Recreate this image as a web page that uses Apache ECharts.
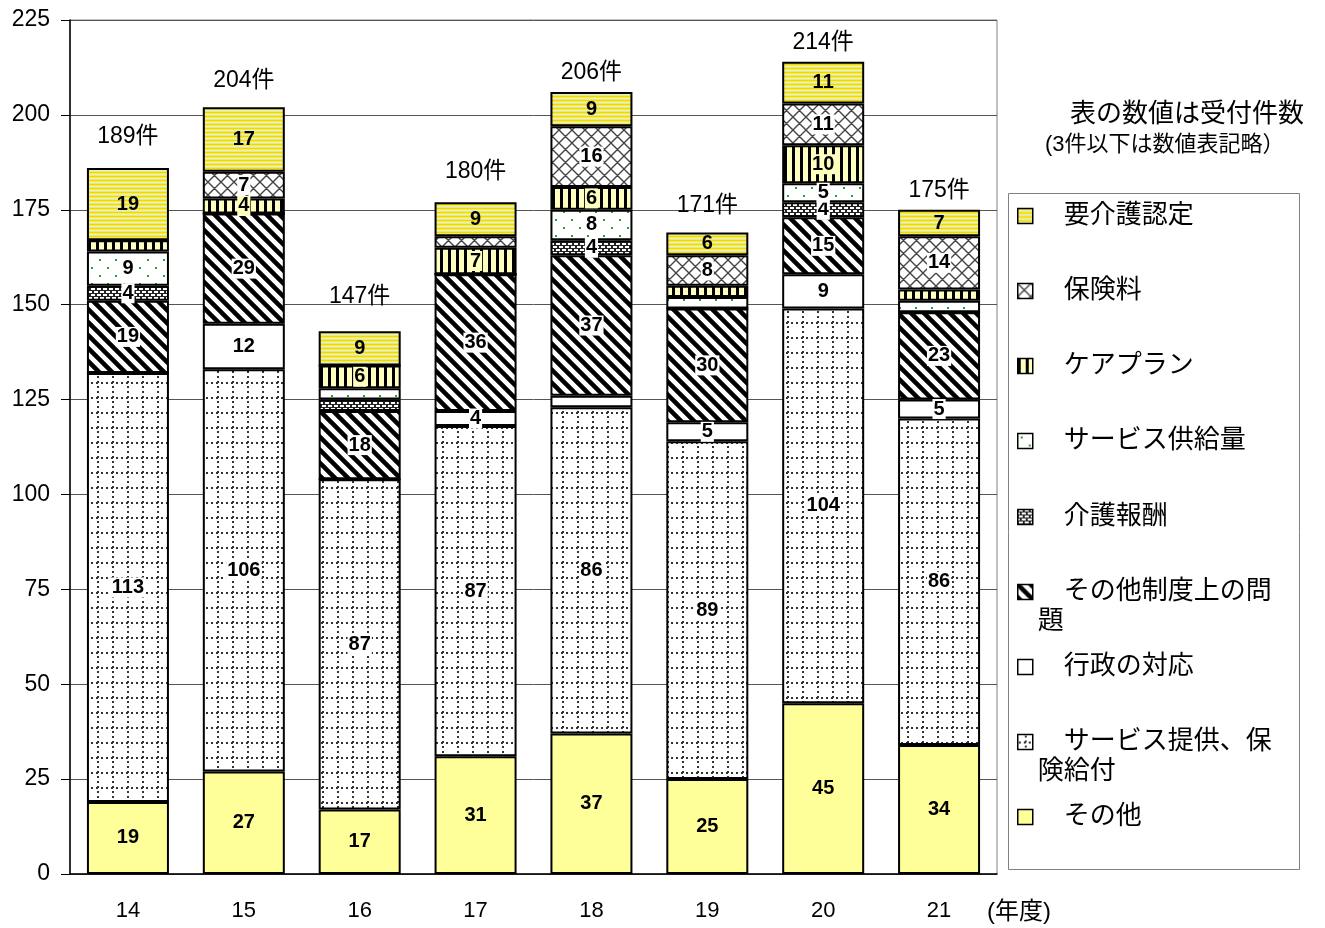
<!DOCTYPE html>
<html>
<head>
<meta charset="utf-8">
<script src="https://cdn.jsdelivr.net/npm/echarts@6/dist/echarts.min.js"></script>
<style>
html, body { margin: 0; padding: 0; background: #fff; }
#chart { width: 1325px; height: 928px; }
</style>
</head>
<body>
<div id="chart"></div>
<script>
// 年度別 苦情受付件数（分類別）
const years = ['14', '15', '16', '17', '18', '19', '20', '21'];
const totals = [189, 204, 147, 180, 206, 171, 214, 175];

// stacked from the bottom of each bar upward
const sonota   = [19, 27, 17, 31, 37, 25, 45, 34];    // その他
const teikyo   = [113, 106, 87, 87, 86, 89, 104, 86]; // サービス提供、保険給付
const gyosei   = [0, 12, 0, 4, 3, 5, 9, 5];           // 行政の対応
const seido    = [19, 29, 18, 36, 37, 30, 15, 23];    // その他制度上の問題
const hoshu    = [4, 0, 3, 0, 4, 0, 4, 0];            // 介護報酬
const kyokyu   = [9, 0, 3, 0, 8, 3, 5, 3];            // サービス供給量
const careplan = [3, 4, 6, 7, 6, 3, 10, 3];           // ケアプラン
const hokenryo = [0, 7, 0, 3, 16, 8, 11, 14];         // 保険料
const nintei   = [19, 17, 9, 9, 9, 6, 11, 7];         // 要介護認定

const yMin = 0, yMax = 225, yStep = 25;
const FONT = '"Liberation Sans", Arial, "Noto Sans CJK JP", sans-serif';

// small repeating fills for the hatched segments
function tile(w, h, draw) {
  const c = document.createElement('canvas');
  c.width = w; c.height = h;
  const g = c.getContext('2d');
  draw(g, w, h);
  return { image: c, repeat: 'repeat' };
}
const fills = {
  nintei: tile(4, 4, (g) => {
    g.fillStyle = '#EFD900'; g.fillRect(0, 0, 4, 1);
    g.fillStyle = '#F6EA55'; g.fillRect(0, 1, 4, 1);
    g.fillStyle = '#DCEFE6'; g.fillRect(0, 2, 4, 1);
    g.fillStyle = '#F6EA55'; g.fillRect(0, 3, 4, 1);
  }),
  hokenryo: tile(13, 13, (g, w, h) => {
    g.fillStyle = '#fff'; g.fillRect(0, 0, w, h);
    g.strokeStyle = '#444'; g.lineWidth = 1.4;
    g.beginPath();
    [-w, 0, w].forEach((k) => {
      g.moveTo(k - 2, -2); g.lineTo(k + w + 2, h + 2);
      g.moveTo(k + w + 2, -2); g.lineTo(k - 2, h + 2);
    });
    g.stroke();
  }),
  careplan: tile(8, 8, (g, w, h) => {
    g.fillStyle = '#FFFFC0'; g.fillRect(0, 0, w, h);
    g.fillStyle = '#000'; g.fillRect(0, 0, 3, h);
  }),
  kyokyu: tile(16, 16, (g, w, h) => {
    g.fillStyle = '#fff'; g.fillRect(0, 0, w, h);
    g.fillStyle = '#2E9E2E';
    g.fillRect(3, 3, 2, 2); g.fillRect(11, 11, 2, 2);
  }),
  hoshu: tile(6, 6, (g, w, h) => {
    g.fillStyle = '#222'; g.fillRect(0, 0, w, h);
    g.fillStyle = '#fff';
    g.fillRect(1, 0, 4, 2);
    g.fillRect(4, 3, 2, 2); g.fillRect(0, 3, 2, 2);
  }),
  seido: tile(13, 13, (g, w, h) => {
    g.fillStyle = '#fff'; g.fillRect(0, 0, w, h);
    g.strokeStyle = '#000'; g.lineWidth = 4.5;
    g.beginPath();
    [-w, 0, w].forEach((k) => { g.moveTo(k - 3, -3); g.lineTo(k + w + 3, h + 3); });
    g.stroke();
  }),
  gyosei: '#ffffff',
  teikyo: tile(15, 15, (g, w, h) => {
    g.fillStyle = '#fff'; g.fillRect(0, 0, w, h);
    g.fillStyle = '#333';
    for (let i = 1; i < 15; i += 5) { g.fillRect(7, i, 2, 2); g.fillRect(i, 7, 2, 2); }
  }),
  sonota: '#FFFF99'
};

const seriesDefs = [
  { name: 'その他', data: sonota, fill: fills.sonota, labelBg: 'transparent' },
  { name: 'サービス提供、保険給付', data: teikyo, fill: fills.teikyo, labelBg: '#fff', legend: '\n\u3000サービス提供、保\n険給付' },
  { name: '行政の対応', data: gyosei, fill: fills.gyosei, labelBg: '#fff' },
  { name: 'その他制度上の問題', data: seido, fill: fills.seido, labelBg: '#fff', legend: '\n\u3000その他制度上の問\n題' },
  { name: '介護報酬', data: hoshu, fill: fills.hoshu, labelBg: '#fff' },
  { name: 'サービス供給量', data: kyokyu, fill: fills.kyokyu, labelBg: '#fff' },
  { name: 'ケアプラン', data: careplan, fill: fills.careplan, labelBg: '#FFFFC0' },
  { name: '保険料', data: hokenryo, fill: fills.hokenryo, labelBg: '#fff' },
  { name: '要介護認定', data: nintei, fill: fills.nintei, labelBg: 'transparent' }
];

const barSeries = seriesDefs.map((d) => ({
  name: d.name,
  type: 'bar',
  stack: 'total',
  barWidth: 82,
  data: d.data,
  itemStyle: { color: d.fill, borderColor: '#000', borderWidth: 2 },
  label: {
    show: true,
    position: 'inside',
    formatter: (p) => (p.value > 3 ? String(p.value) : ''),
    fontFamily: FONT, fontSize: 20, fontWeight: 'bold', color: '#000',
    backgroundColor: d.labelBg, padding: [0, 1]
  },
  emphasis: { disabled: true }
}));

// total count above each bar
const totalSeries = {
  name: 'total',
  type: 'scatter',
  data: totals,
  symbolSize: 0,
  itemStyle: { color: '#000', opacity: 1 },
  label: {
    show: true, position: 'top', distance: 8,
    formatter: (p) => p.value + '件',
    fontFamily: FONT, fontSize: 23, color: '#000', opacity: 1
  },
  emphasis: { disabled: true },
  silent: true
};

// legend: one entry per block, listed top category first
const legendOrder = seriesDefs.slice().reverse();
const legendCenters = [216, 291, 366, 441, 517, 592, 667, 742, 817];
const legends = legendOrder.map((d, i) => {
  const twoLine = !!d.legend;
  return {
    data: [d.name],
    orient: 'vertical',
    left: 1017,
    top: legendCenters[i] - (twoLine ? 45 : 15),
    padding: 0,
    icon: 'rect',
    itemWidth: 15,
    itemHeight: 15,
    selectedMode: false,
    itemStyle: { borderColor: '#000', borderWidth: 1.5 },
    formatter: () => d.legend || ('\u3000' + d.name),
    textStyle: { fontFamily: FONT, fontSize: 26, color: '#000', lineHeight: 30 }
  };
});

const chart = echarts.init(document.getElementById('chart'));
chart.setOption({
  animation: false,
  backgroundColor: '#fff',
  textStyle: { fontFamily: FONT },
  grid: {
    left: 70, right: 328, top: 20, bottom: 54,
    show: true, borderColor: '#808080', borderWidth: 1
  },
  xAxis: {
    type: 'category',
    data: years,
    name: '(年度)',
    nameLocation: 'end',
    nameGap: -10,
    nameTextStyle: { fontFamily: FONT, fontSize: 24, color: '#000', verticalAlign: 'top', padding: [26, 0, 0, 0] },
    axisLine: { lineStyle: { color: '#000', width: 1.5 } },
    axisTick: { show: false },
    axisLabel: { fontFamily: FONT, fontSize: 22, color: '#000', margin: 26 }
  },
  yAxis: {
    type: 'value',
    min: yMin, max: yMax, interval: yStep,
    axisLine: { show: true, lineStyle: { color: '#000', width: 1.5 } },
    axisTick: { show: true, length: 9, lineStyle: { color: '#000' } },
    axisLabel: { fontFamily: FONT, fontSize: 23, color: '#000', margin: 20 },
    splitLine: { lineStyle: { color: '#555', width: 1 } }
  },
  legend: legends,
  series: barSeries.concat([totalSeries]),
  graphic: [
    {
      type: 'rect', left: 1006, top: 191, silent: true,
      shape: { width: 291, height: 676 },
      style: { fill: 'none', stroke: '#808080', lineWidth: 1 }
    },
    {
      type: 'text', left: 1070, top: 102, silent: true,
      style: { text: '表の数値は受付件数', font: '26px ' + FONT, fill: '#000' }
    },
    {
      type: 'text', left: 1045, top: 134, silent: true,
      style: { text: '(3件以下は数値表記略）', font: '22px ' + FONT, fill: '#000' }
    }
  ]
});
</script>
</body>
</html>
